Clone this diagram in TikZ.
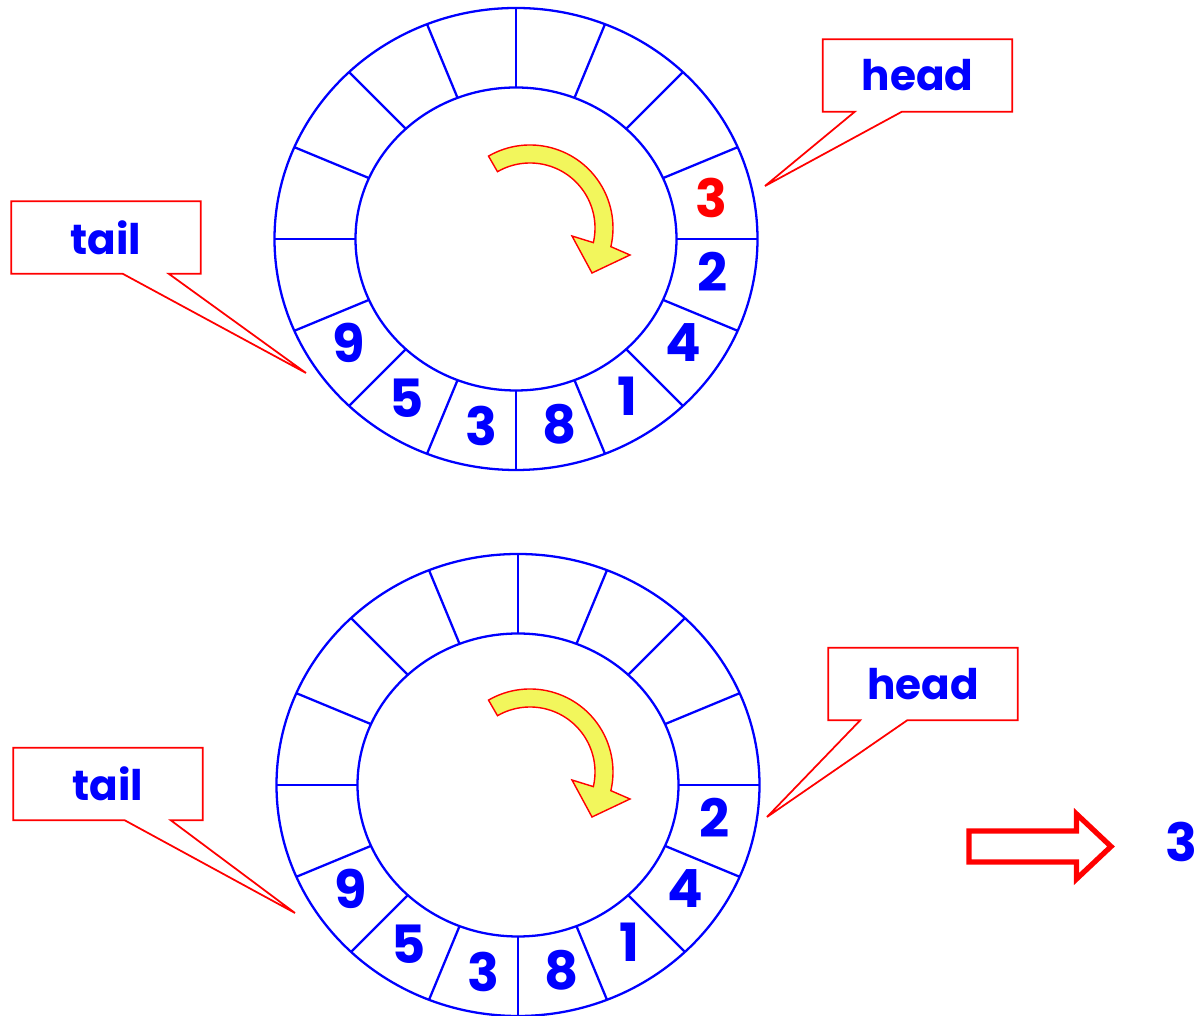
\documentclass[tikz,border=0pt]{standalone}
\usepackage{fontspec}
\setmainfont{Poppins}
\usetikzlibrary{calc}
\definecolor{QueueBlue}{HTML}{0000FF}
\definecolor{QueueRed}{HTML}{FF0000}
\definecolor{TurnYellow}{HTML}{F2F65C}
\tikzset{
    ring/.style={
        draw=QueueBlue,
        line width=1.3pt
    },
    cell/.style={
        text=#1,
        font=\fontsize{30}{34}\selectfont\bfseries,
        inner sep=0pt
    },
    cell/.default=QueueBlue,
    callout/.style={
        text=QueueBlue,
        font=\fontsize{24}{28}\selectfont\bfseries,
        minimum width=3.78cm,
        minimum height=1.44cm,
        inner sep=0pt
    },
    calloutline/.style={
        draw=QueueRed,
        line width=1pt
    },
    turn/.style={
        fill=TurnYellow,
        draw=QueueRed,
        line width=0.8pt
    },
    popped/.style={
        draw=QueueRed,
        line width=3pt,
        fill=white
    }
}

\begin{document}
\begin{tikzpicture}
    \useasboundingbox (0,0) rectangle (23.92,20.32);

    % centres of the two rings and of the turning arrows
    \coordinate (ringA) at (10.32,15.54);
    \coordinate (ringB) at (10.36,4.62);
    \coordinate (turnA) at (10.60,15.76);
    \coordinate (turnB) at (10.60,4.88);

    % the rings, 16 cells each
    \foreach \ctr in {ringA,ringB}{
        \begin{scope}
            \clip (\ctr) ellipse (4.83 and 4.62);
            \foreach \a in {0,22.5,...,337.5}
                \draw[ring] (\ctr) -- ++(\a:5);
        \end{scope}
        \fill[white] (\ctr) ellipse (3.21 and 3.03);
        \draw[ring] (\ctr) ellipse (4.83 and 4.62);
        \draw[ring] (\ctr) ellipse (3.21 and 3.03);
    }

    % clockwise arrows
    \foreach \t in {turnA,turnB}{
        \begin{scope}[shift={(\t)}]
            \draw[turn] (120:1.66) arc[start angle=120, end angle=-13, radius=1.66]
                -- (2.00,-0.54) -- (1.24,-0.90) -- (0.84,-0.16)
                -- (-13:1.30) arc[start angle=-13, end angle=120, radius=1.30] -- cycle;
        \end{scope}
    }

    % queue contents before
    \begin{scope}[shift={(ringA)}]
        \node[cell=QueueRed] (a0) at (12.5:4.0 and 3.8) {3};
        \foreach \v/\ang [count=\i] in {2/-10,4/-33,1/-56,8/-77.5,3/-100,5/-123,9/-147}
            \node[cell] (a\i) at (\ang:4.0 and 3.8) {\v};
    \end{scope}

    % queue contents after
    \begin{scope}[shift={(ringB)}]
        \foreach \v/\ang [count=\i] in {2/-10,4/-33,1/-56,8/-77.5,3/-100,5/-123,9/-147}
            \node[cell] (b\i) at (\ang:4.0 and 3.8) {\v};
    \end{scope}

    % head / tail callouts
    \node[callout] (headA) at (18.35,18.81) {head};
    \node[callout] (tailA) at (2.12,15.57) {tail};
    \node[callout] (headB) at (18.46,6.64) {head};
    \node[callout] (tailB) at (2.16,4.64) {tail};
    \coordinate (headAtip) at (15.30,16.60);
    \coordinate (tailAtip) at (6.12,12.86);
    \coordinate (headBtip) at (15.34,3.98);
    \coordinate (tailBtip) at (5.90,2.06);

    \foreach \h in {headA,headB}
        \draw[calloutline] (\h.south west) -- (\h.north west) -- (\h.north east)
            -- (\h.south east) -- ($(\h.south west)+(1.58,0)$) -- (\h tip)
            -- ($(\h.south west)+(0.64,0)$) -- cycle;
    \foreach \h in {tailA,tailB}
        \draw[calloutline] (\h.south west) -- (\h.north west) -- (\h.north east)
            -- (\h.south east) -- ($(\h.south east)+(-0.64,0)$) -- (\h tip)
            -- ($(\h.south east)+(-1.56,0)$) -- cycle;

    % dequeued value
    \draw[popped] (19.38,3.70) -- (21.53,3.70) -- (21.53,4.04) -- (22.22,3.39)
        -- (21.53,2.74) -- (21.53,3.08) -- (19.38,3.08) -- cycle;
    \node[cell] (out) at (23.62,3.48) {3};
\end{tikzpicture}
\end{document}
